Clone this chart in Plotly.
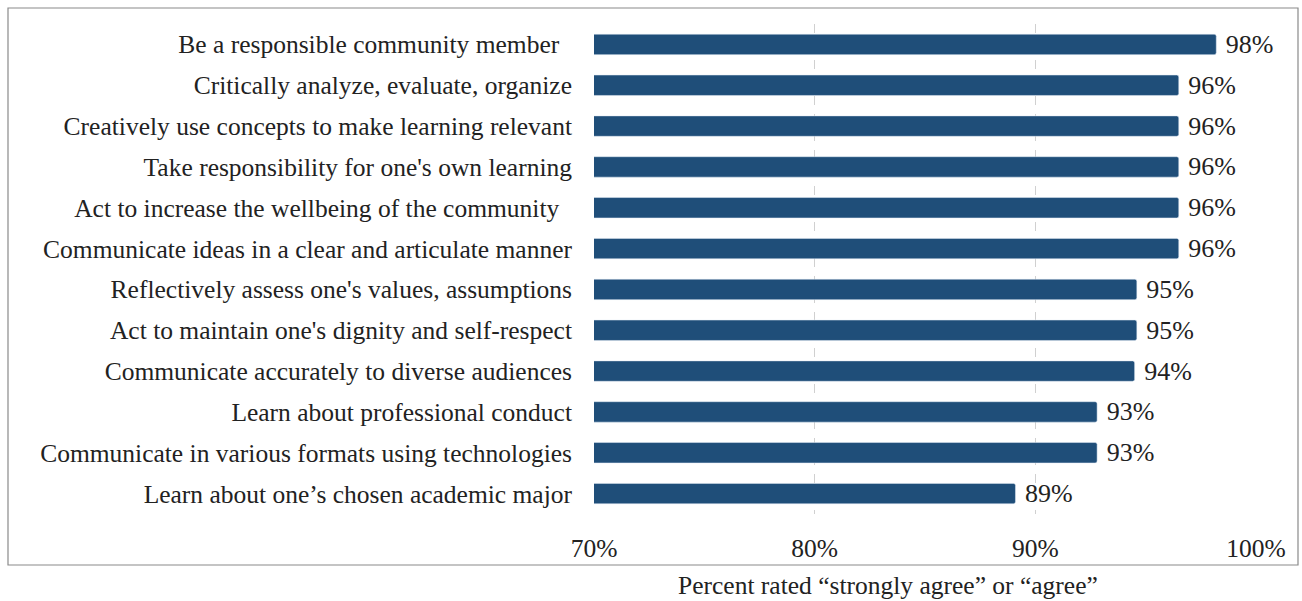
import plotly.graph_objects as go

categories = [
    "Be a responsible community member\u00a0\u00a0",
    "Critically analyze, evaluate, organize",
    "Creatively use concepts to make learning relevant",
    "Take responsibility for one's own learning",
    "Act to increase the wellbeing of the community\u00a0\u00a0",
    "Communicate ideas in a clear and articulate manner",
    "Reflectively assess one's values, assumptions",
    "Act to maintain one's dignity and self-respect",
    "Communicate accurately to diverse audiences",
    "Learn about professional conduct",
    "Communicate in various formats using technologies",
    "Learn about one\u2019s chosen academic major",
]
values = [98.2, 96.5, 96.5, 96.5, 96.5, 96.5, 94.6, 94.6, 94.5, 92.8, 92.8, 89.1]
labels = ["98%", "96%", "96%", "96%", "96%", "96%", "95%", "95%", "94%", "93%", "93%", "89%"]
tick_vals = [70, 80, 90, 100]
tick_text = ["70%", "80%", "90%", "100%"]
x_title = "Percent rated \u201cstrongly agree\u201d or \u201cagree\u201d"

W, H = 1302, 601
L, R, T, B = 594, 1256, 24, 514
FONT = "Liberation Serif"
FS = 25.5
COL = "#222222"

fig = go.Figure(go.Bar(
    y=categories, x=values, orientation="h",
    marker=dict(color="#1F4E79", cornerradius=2),
    text=labels, texttemplate="\u00a0%{text}", textposition="outside",
    cliponaxis=False, constraintext="none",
    textfont=dict(family=FONT, size=26, color=COL),
))

fig.update_layout(
    width=W, height=H,
    margin=dict(l=L, r=W - R, t=T, b=H - B, autoexpand=False),
    paper_bgcolor="white", plot_bgcolor="white",
    font=dict(family=FONT, size=FS, color=COL),
    bargap=0.5, showlegend=False,
    xaxis=dict(range=[70, 100], tickvals=tick_vals, ticktext=tick_text,
               showgrid=True, gridcolor="#D0D0D0", griddash="dash", gridwidth=1,
               zeroline=False, showline=False, ticks="", ticklabelstandoff=16,
               tickfont=dict(family=FONT, size=FS, color=COL)),
    yaxis=dict(autorange="reversed", showgrid=False, zeroline=False,
               ticks="", ticklabelstandoff=21,
               tickfont=dict(family=FONT, size=FS, color=COL)),
)

def px_x(p):
    return (p - L) / (R - L)

def px_y(p):
    return (B - p) / (B - T)

fig.add_shape(type="rect", xref="paper", yref="paper",
              x0=px_x(8), x1=px_x(1298), y0=px_y(565), y1=px_y(8),
              line=dict(color="#8A8A8A", width=1.2), fillcolor="rgba(0,0,0,0)", layer="below")

fig.add_annotation(text=x_title, xref="paper", yref="paper",
                   x=px_x(888), y=px_y(585), xanchor="center", yanchor="middle",
                   showarrow=False, font=dict(family=FONT, size=FS, color=COL))

fig.write_html("out.html", config={"displayModeBar": False},
               post_script="document.body.style.margin='0px';document.body.style.padding='0px';")
